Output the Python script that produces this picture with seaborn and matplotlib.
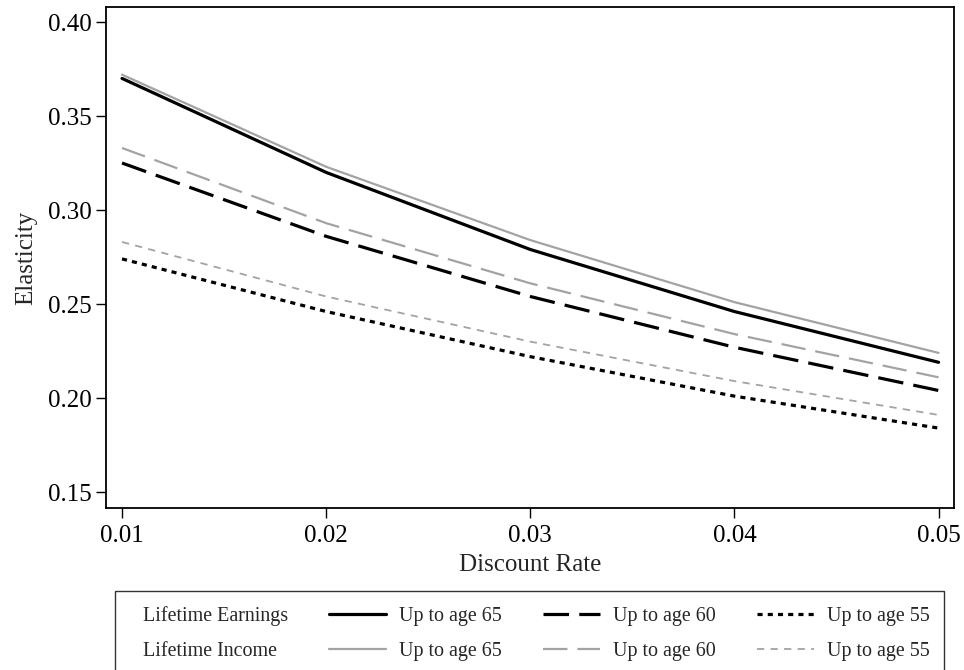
import numpy as np
import pandas as pd
import matplotlib
matplotlib.use("Agg")
import matplotlib.pyplot as plt
import seaborn as sns
from matplotlib.lines import Line2D

# Data
discount_rate = [0.01, 0.02, 0.03, 0.04, 0.05]
earn_65 = [0.370, 0.320, 0.279, 0.246, 0.219]
earn_60 = [0.325, 0.286, 0.254, 0.227, 0.204]
earn_55 = [0.274, 0.246, 0.222, 0.201, 0.184]
inc_65 = [0.372, 0.323, 0.284, 0.251, 0.224]
inc_60 = [0.333, 0.293, 0.261, 0.234, 0.211]
inc_55 = [0.283, 0.254, 0.230, 0.209, 0.191]
x_labels = ["0.01", "0.02", "0.03", "0.04", "0.05"]
y_ticks = [0.15, 0.20, 0.25, 0.30, 0.35, 0.40]

sns.set_style("ticks")
plt.rcParams['font.family'] = ['Liberation Serif', 'DejaVu Serif']

black = "black"
gray = "#a3a3a3"

# (name, values, color, linewidth, dashes)
series = [
    ("Lifetime Earnings, Up to age 65", earn_65, black, 2.3, None),
    ("Lifetime Earnings, Up to age 60", earn_60, black, 2.3, (8, 3.2)),
    ("Lifetime Earnings, Up to age 55", earn_55, black, 2.3, (1.6, 1.6)),
    ("Lifetime Income, Up to age 65", inc_65, gray, 1.6, None),
    ("Lifetime Income, Up to age 60", inc_60, gray, 1.6, (11, 4.5)),
    ("Lifetime Income, Up to age 55", inc_55, gray, 1.3, (4, 3.5)),
]

fig = plt.figure(figsize=(9.64, 6.70), dpi=100)
ax = fig.add_axes([0.110, 0.2418, 0.8797, 0.7478])

handles = {}
for name, vals, col, lw, dash in series:
    df = pd.DataFrame({"rate": discount_rate, "elasticity": vals})
    sns.lineplot(data=df, x="rate", y="elasticity", color=col, linewidth=lw, ax=ax)
    line = ax.lines[-1]
    if dash is not None:
        line.set_dashes(dash)
    handles[name] = Line2D([], [], color=col, linewidth=lw,
                           dashes=dash if dash is not None else (None, None))

ax.set_xlim(0.009217, 0.05076)
ax.set_ylim(0.1415, 0.408)
ax.set_xticks(discount_rate)
ax.set_xticklabels(x_labels)
ax.set_yticks(y_ticks)
ax.set_yticklabels([f"{v:.2f}" for v in y_ticks])
ax.tick_params(direction="out", length=7, width=1, pad=3, labelsize=18, colors="black")
ax.tick_params(axis="x", pad=5)
ax.set_xlabel("Discount Rate", fontsize=18, labelpad=5)
ax.set_ylabel("Elasticity", fontsize=18, labelpad=8)
for s in ax.spines.values():
    s.set_visible(True)
    s.set_linewidth(1.3)
    s.set_color("black")

blank = Line2D([], [], color="none")
leg_handles = [blank, blank,
               handles["Lifetime Earnings, Up to age 65"], handles["Lifetime Income, Up to age 65"],
               handles["Lifetime Earnings, Up to age 60"], handles["Lifetime Income, Up to age 60"],
               handles["Lifetime Earnings, Up to age 55"], handles["Lifetime Income, Up to age 55"]]
leg_labels = ["Lifetime Earnings", "Lifetime Income",
              "Up to age 65", "Up to age 65",
              "Up to age 60", "Up to age 60",
              "Up to age 55", "Up to age 55"]
leg = fig.legend(leg_handles, leg_labels, ncol=4,
                 bbox_to_anchor=(0.1193, 0.1179), loc="upper left",
                 fontsize=14.4, frameon=True, fancybox=False, edgecolor="black",
                 handlelength=2.85, handletextpad=0.65, columnspacing=2.05,
                 labelspacing=0.8, borderaxespad=0.0, borderpad=0.75)
leg.get_frame().set_linewidth(1.0)

# row labels in the first column carry no line sample
first_col = leg._legend_handle_box.get_children()[0]
for row in first_col.get_children():
    row.get_children()[0].width = 0

fig.savefig("out.png", dpi=100)
